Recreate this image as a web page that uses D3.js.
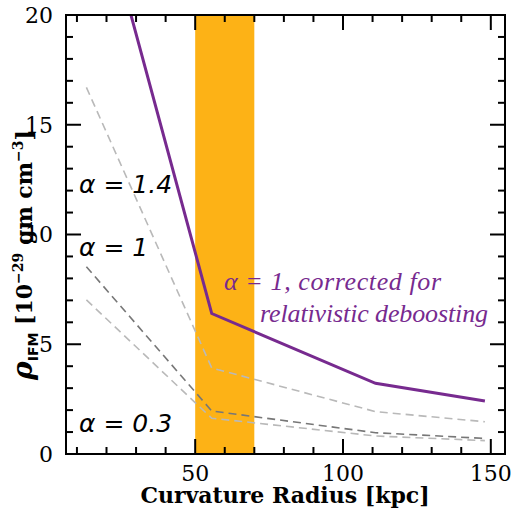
<!DOCTYPE html>
<meta charset="utf-8">
<style>
  body { margin: 0; background: #fff; }
  text { font-family: "DejaVu Serif", serif; fill: #000; }
  .tk { stroke: #000; stroke-width: 2px; }
</style>
<body>
<script src="https://d3js.org/d3.v7.min.js"></script>
<script>
// radius of curvature (kpc) at which each density is evaluated
var radius = [13.2, 55.6, 111, 148];

// IFM density [1e-29 gm cm^-3]
var alpha14 = [16.7, 3.92, 1.93, 1.47];
var alpha1 = [8.53, 1.96, 0.97, 0.71];
var alpha03 = [7.02, 1.63, 0.82, 0.61];
var alpha1Corrected = [27.5, 6.40, 3.22, 2.41];

// highlighted radius range (kpc)
var band = [50, 70];

var xMajor = [50, 100, 150];
var yMajor = [0, 5, 10, 15, 20];
var xMinor = [10, 20, 30, 40, 60, 70, 80, 90, 110, 120, 130, 140];
var yMinor = [1, 2, 3, 4, 6, 7, 8, 9, 11, 12, 13, 14, 16, 17, 18, 19];

var width = 512, height = 511;
var plotL = 66, plotR = 505, plotT = 15, plotB = 454;

var svg = d3.select("body").append("svg")
    .attr("width", width)
    .attr("height", height);

var x = d3.scaleLinear().domain([6.3, 154.8]).range([plotL, plotR]);
var y = d3.scaleLinear().domain([0, 20]).range([plotB, plotT]);

svg.append("clipPath").attr("id", "plot")
  .append("rect")
    .attr("x", plotL).attr("y", plotT)
    .attr("width", plotR - plotL).attr("height", plotB - plotT);

var g = svg.append("g").attr("clip-path", "url(#plot)");

// shaded radius band
g.append("rect")
    .attr("x", x(band[0]))
    .attr("y", plotT)
    .attr("width", x(band[1]) - x(band[0]))
    .attr("height", plotB - plotT)
    .attr("fill", "#fdb216");

var line = d3.line()
    .x(function(d) { return x(d[0]); })
    .y(function(d) { return y(d[1]); });

function addSeries(vals, color, w, dash) {
  g.append("path")
    .datum(d3.zip(radius, vals))
    .attr("d", line)
    .attr("fill", "none")
    .attr("stroke", color)
    .attr("stroke-width", w)
    .attr("stroke-dasharray", dash);
}

addSeries(alpha14, "#b9b9b9", 1.6, "8,5");
addSeries(alpha03, "#b9b9b9", 1.6, "8,5");
addSeries(alpha1, "#777777", 1.6, "8,5");
addSeries(alpha1Corrected, "#772a8f", 3, null);

// inward ticks on all four sides
var tickG = svg.append("g");

function xTicks(vals, len) {
  vals.forEach(function(v) {
    tickG.append("line").attr("class", "tk")
        .attr("x1", x(v)).attr("x2", x(v))
        .attr("y1", plotB).attr("y2", plotB - len);
    tickG.append("line").attr("class", "tk")
        .attr("x1", x(v)).attr("x2", x(v))
        .attr("y1", plotT).attr("y2", plotT + len);
  });
}
function yTicks(vals, len) {
  vals.forEach(function(v) {
    tickG.append("line").attr("class", "tk")
        .attr("x1", plotL).attr("x2", plotL + len)
        .attr("y1", y(v)).attr("y2", y(v));
    tickG.append("line").attr("class", "tk")
        .attr("x1", plotR).attr("x2", plotR - len)
        .attr("y1", y(v)).attr("y2", y(v));
  });
}
xTicks(xMinor, 7);
xTicks(xMajor, 15);
yTicks(yMinor, 7);
yTicks(yMajor, 15);

svg.append("rect")
    .attr("x", plotL).attr("y", plotT)
    .attr("width", plotR - plotL).attr("height", plotB - plotT)
    .attr("fill", "none")
    .attr("stroke", "#000")
    .attr("stroke-width", 2);

// tick labels
svg.selectAll(".xl").data(xMajor).enter().append("text")
    .attr("class", "xl")
    .attr("x", function(d) { return x(d); })
    .attr("y", 481)
    .attr("text-anchor", "middle")
    .style("font-size", "22px")
    .text(function(d) { return d; });

svg.selectAll(".yl").data(yMajor).enter().append("text")
    .attr("class", "yl")
    .attr("x", 53)
    .attr("y", function(d) { return y(d); })
    .attr("dy", "0.36em")
    .attr("text-anchor", "end")
    .style("font-size", "22px")
    .text(function(d) { return d; });

// axis titles
svg.append("text")
    .attr("x", 285)
    .attr("y", 503)
    .attr("text-anchor", "middle")
    .style("font-size", "22px")
    .style("font-weight", "bold")
    .text("Curvature Radius [kpc]");

var yt = svg.append("text")
    .attr("transform", "translate(32,255) rotate(-90)")
    .attr("text-anchor", "middle")
    .style("font-size", "22px")
    .style("font-weight", "bold");
yt.append("tspan").style("font-style", "italic").style("font-size", "28px").text("ρ");
yt.append("tspan").attr("dy", 6).style("font-size", "14px").style("font-family", "'DejaVu Sans', sans-serif").text("IFM");
yt.append("tspan").attr("dy", -6).text(" [10");
yt.append("tspan").attr("dy", -9).style("font-size", "14px").text("−29");
yt.append("tspan").attr("dy", 9).text(" gm cm");
yt.append("tspan").attr("dy", -9).style("font-size", "14px").text("−3");
yt.append("tspan").attr("dy", 9).text("]");

// series labels
var labels = [
  {t: "α = 1.4", v: 11.9},
  {t: "α = 1", v: 9.0},
  {t: "α = 0.3", v: 1.0}
];
svg.selectAll(".lab").data(labels).enter().append("text")
    .attr("class", "lab")
    .attr("x", 79)
    .attr("y", function(d) { return y(d.v); })
    .style("font-size", "25px")
    .style("font-style", "italic")
    .style("font-family", "'DejaVu Sans', sans-serif")
    .text(function(d) { return d.t; });

var note = svg.append("text")
    .style("font-size", "26px")
    .style("font-style", "italic")
    .style("font-family", "'Liberation Serif', serif");
note.append("tspan").attr("x", 224).attr("y", 290).attr("fill", "#772a8f")
    .attr("textLength", 217).attr("lengthAdjust", "spacing")
    .text("α = 1, corrected for");
note.append("tspan").attr("x", 260).attr("y", 322).attr("fill", "#772a8f")
    .attr("textLength", 228).attr("lengthAdjust", "spacing")
    .text("relativistic deboosting");
</script>
</body>
</html>
